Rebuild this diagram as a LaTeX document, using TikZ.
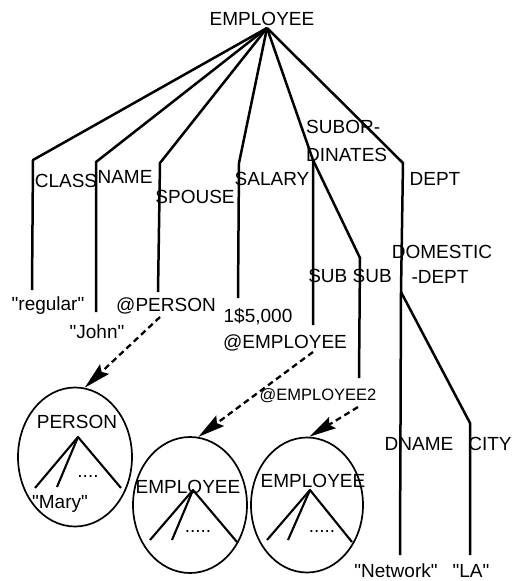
\documentclass[tikz,border=0pt]{standalone}
\usepackage{fontspec}
\setmainfont{Liberation Sans}
\newfontfamily\lblfont{Liberation Sans}
\usetikzlibrary{shapes.geometric,arrows.meta}
\begin{document}
\begin{tikzpicture}[x=1pt,y=-1pt,
  lbl/.style={inner sep=0pt, anchor=base, font=\lblfont\fontsize{19}{22}\selectfont},
  edge/.style={line width=2.5pt, line join=round},
  thin edge/.style={line width=2.1pt, line join=round},
  ref/.style={line width=2.3pt, dash pattern=on 6pt off 4pt, -{Stealth[length=27pt,width=13pt,inset=4pt]}},
  oval/.style={ellipse, draw, line width=1.7pt, inner sep=0pt}]
\useasboundingbox (0,0) rectangle (532,581);

% labels
\node[lbl] (lemp) at (262,25) {EMPLOYEE};
\node[lbl] (lclass) at (66,187) {CLASS};
\node[lbl] (lname) at (125,183) {NAME};
\node[lbl] (lspouse) at (195,203) {SPOUSE};
\node[lbl] (lsalary) at (272,185) {SALARY};
\node[lbl, anchor=base west] (lsub1) at (306,133) {SUBOR-};
\node[lbl, anchor=base west] (lsub2) at (306,161) {DINATES};
\node[lbl] (ldept) at (435,185) {DEPT};
\node[lbl] (ldom1) at (442,258) {DOMESTIC};
\node[lbl] (ldom2) at (440,283) {-DEPT};
\node[lbl] (lsubsub) at (350,282) {SUB SUB};
\node[lbl] (lregular) at (48,310) {"regular"};
\node[lbl] (ljohn) at (97,338) {"John"};
\node[lbl] (lperson) at (166,311) {@PERSON};
\node[lbl] (lsal) at (258,322) {1\$5,000};
\node[lbl] (lemp1) at (285,348) {@EMPLOYEE};
\node[lbl, font=\lblfont\fontsize{16.5}{20}\selectfont] (lemp2) at (318,400) {@EMPLOYEE2};
\node[lbl] (ldname) at (419,450) {DNAME};
\node[lbl] (lcity) at (490,450) {CITY};
\node[lbl] (lnet) at (396,577) {"Network"};
\node[lbl] (lla) at (471,577) {"LA"};

% tree points
\coordinate (r) at (267,28);
\coordinate (c1) at (33,160);  \coordinate (c2) at (32,290);
\coordinate (n1) at (96,162);  \coordinate (n2) at (96,312);
\coordinate (s1) at (160,163); \coordinate (s2) at (158,292);
\coordinate (y1) at (239,163); \coordinate (y2) at (238,298);
\coordinate (b1) at (313,160); \coordinate (b2) at (313,325);
\coordinate (b3) at (360,258); \coordinate (b4) at (359,378);
\coordinate (d0) at (403,163); \coordinate (d1) at (401,292);
\coordinate (d2) at (400,555);
\coordinate (d3) at (470,423); \coordinate (d4) at (470,555);

\draw[edge] (r) -- (c1) -- (c2);
\draw[edge] (r) -- (n1) -- (n2);
\draw[edge] (r) -- (s1) -- (s2);
\draw[edge] (r) -- (y1) -- (y2);
\draw[edge] (r) -- (b1) -- (b2);
\draw[edge] (b1) -- (b3) -- (b4);
\draw[edge] (r) -- (d0) -- (d1) -- (d2);
\draw[edge] (d1) -- (d3) -- (d4);

% ellipses
\node[oval, minimum width=114pt, minimum height=139pt] (ep) at (75,457) {};
\node[oval, minimum width=114pt, minimum height=136pt] (ee1) at (190,505) {};
\node[oval, minimum width=112pt, minimum height=135pt] (ee2) at (307,505) {};

% contents of PERSON
\node[lbl] (tperson) at (77,428) {PERSON};
\node[lbl] (tmary) at (60,508) {"Mary"};
\node[lbl] (tdots1) at (88,477) {....};
\coordinate (pa) at (78,437);
\coordinate (pl1) at (35,488); \coordinate (pl2) at (57,487); \coordinate (pl3) at (121,488);
\draw[thin edge] (pl1) -- (pa) -- (pl3);
\draw[thin edge] (pa) -- (pl2);

% contents of EMPLOYEE 1
\node[lbl] (temp1) at (188,493) {EMPLOYEE};
\node[lbl] (tdots2) at (198,532) {.....};
\coordinate (ea) at (193,490);
\coordinate (el1) at (150,540); \coordinate (el2) at (172,540); \coordinate (el3) at (237,542);
\draw[thin edge] (el1) -- (ea) -- (el3);
\draw[thin edge] (ea) -- (el2);

% contents of EMPLOYEE 2
\node[lbl] (temp2) at (313,487) {EMPLOYEE};
\node[lbl] (tdots3) at (322,532) {.....};
\coordinate (fa) at (310,490);
\coordinate (fl1) at (267,540); \coordinate (fl2) at (288,540); \coordinate (fl3) at (352,542);
\draw[thin edge] (fl1) -- (fa) -- (fl3);
\draw[thin edge] (fa) -- (fl2);

% reference arrows
\coordinate (a1) at (160,317);
\coordinate (a2) at (313,352);
\coordinate (a3) at (358,407);
\draw[ref] (a1) -- (ep.82);
\draw[ref] (a2) -- (ee1.83);
\draw[ref] (a3) -- (ee2.88);
\end{tikzpicture}
\end{document}
